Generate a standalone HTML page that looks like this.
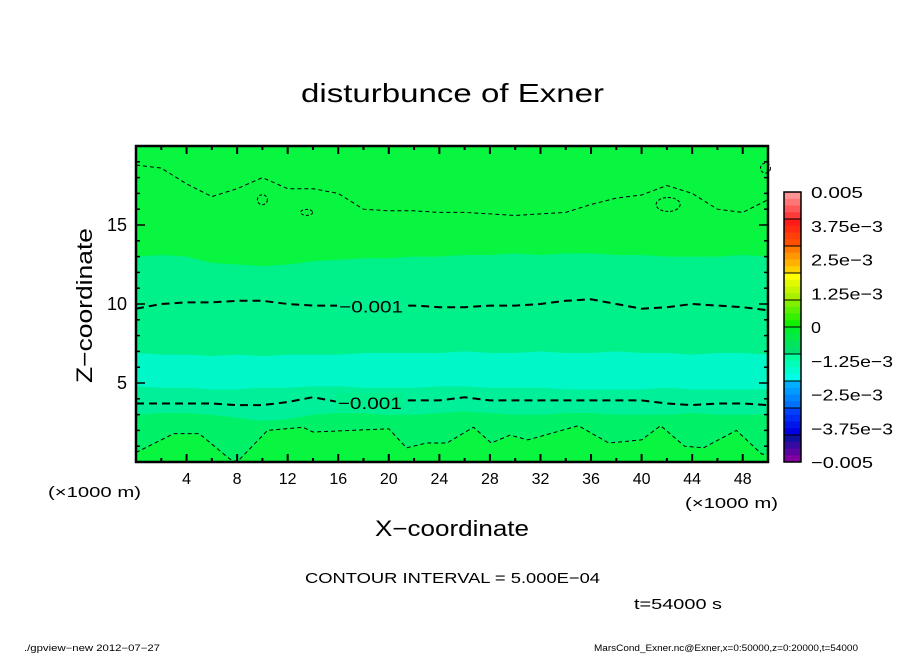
<!DOCTYPE html>
<html><head><meta charset="utf-8"><style>
body{margin:0;background:#fff;}
svg{display:block;font-family:"Liberation Sans",sans-serif;}
</style></head><body>
<svg id="chart" width="904" height="654" viewBox="0 0 904 654">
<text x="301" y="102" font-size="26" textLength="303" lengthAdjust="spacingAndGlyphs">disturbunce of Exner</text>
<g id="plot"></g>
<g id="cbar"></g>
<text x="375" y="536" font-size="22" textLength="154" lengthAdjust="spacingAndGlyphs">X−coordinate</text>
<text transform="translate(92,383) rotate(-90)" font-size="22" textLength="155" lengthAdjust="spacingAndGlyphs">Z−coordinate</text>
<text x="48" y="497" font-size="15" textLength="93" lengthAdjust="spacingAndGlyphs">(×1000 m)</text>
<text x="685" y="508" font-size="15" textLength="93" lengthAdjust="spacingAndGlyphs">(×1000 m)</text>
<text x="305" y="583" font-size="15" textLength="295" lengthAdjust="spacingAndGlyphs">CONTOUR INTERVAL = 5.000E−04</text>
<text x="634" y="609" font-size="15" textLength="88" lengthAdjust="spacingAndGlyphs">t=54000 s</text>
<text x="24" y="651" font-size="9" textLength="136" lengthAdjust="spacingAndGlyphs">./gpview−new   2012−07−27</text>
<text x="594" y="651" font-size="9" textLength="264" lengthAdjust="spacingAndGlyphs">MarsCond_Exner.nc@Exner,x=0:50000,z=0:20000,t=54000</text>
</svg>
<script>
// ---- data ----
const xTicks = [4,8,12,16,20,24,28,32,36,40,44,48];
const zTicks = [5,10,15];
const gridX = [0,2,4,6,8,10,12,14,16,18,20,22,24,26,28,30,32,34,36,38,40,42,44,46,48,50];
const contourUpper = [18.8,18.6,17.6,16.8,17.3,18.0,17.3,17.3,17.0,16.0,15.9,15.9,15.8,15.8,15.7,15.6,15.7,15.8,16.3,16.7,16.9,17.5,17.0,16.0,15.8,16.6];
const bandTop = [13.0,13.1,13.0,12.6,12.5,12.4,12.5,12.7,12.8,12.9,12.9,13.0,13.0,13.1,13.1,13.2,13.1,13.2,13.2,13.1,13.1,13.0,13.0,13.0,13.1,13.0];
const contourMid = [9.7,10.0,10.1,10.1,10.2,10.2,10.0,9.9,9.9,9.9,9.9,9.9,9.8,9.8,9.9,9.9,10.0,10.2,10.3,10.0,9.7,9.8,10.0,9.9,9.8,9.6];
const cyanTop = [6.9,6.8,6.8,6.7,6.8,6.7,6.8,6.8,6.8,6.9,6.9,6.9,6.9,7.0,6.9,6.9,7.0,6.9,6.9,7.0,6.9,6.9,6.8,6.9,6.9,6.8];
const cyanBottom = [4.8,4.7,4.7,4.6,4.6,4.7,4.7,4.8,4.8,4.7,4.7,4.7,4.8,4.8,4.7,4.7,4.7,4.6,4.6,4.6,4.6,4.7,4.6,4.6,4.6,4.6];
const contourLow = [3.7,3.7,3.7,3.7,3.6,3.6,3.8,4.1,3.8,3.8,3.9,3.9,3.9,4.1,3.9,3.9,3.9,3.9,3.9,3.9,3.9,3.7,3.6,3.7,3.7,3.6];
const bandLow = [3.0,3.1,3.1,3.0,2.8,2.6,2.7,3.0,3.1,3.1,3.0,3.0,3.1,3.2,3.1,3.0,3.0,3.1,3.1,3.0,3.0,3.0,3.1,3.0,3.0,3.0];
const bottomX = [0,3,5,7.4,8,10.4,13.2,14,17,20,21.4,23,24.6,26.7,28.1,29.6,31,35,37.4,40,41.5,43.4,44.9,47.5,49.5,50];
const contourBottom = [0.6,1.8,1.8,0.2,0.0,2.0,2.2,1.9,2.0,2.1,0.9,1.2,1.2,2.2,1.2,1.7,1.4,2.3,1.2,1.4,2.3,1.0,0.9,2.0,0.5,0.5];
const contourLabels = [{x:18.6,z:9.9,t:"−0.001"},{x:18.5,z:3.8,t:"−0.001"}];
const cbLabels = ["0.005","3.75e−3","2.5e−3","1.25e−3","0","−1.25e−3","−2.5e−3","−3.75e−3","−0.005"];

// ---- scales ----
const X0=136,X1=768,Z0=462,Z1=146;
const sx = x => X0 + (x/50)*(X1-X0);
const sz = z => Z0 - (z/20)*(Z0-Z1);
const NS="http://www.w3.org/2000/svg";
const plot=document.getElementById('plot');
function mk(tag,attrs,parent){const e=document.createElementNS(NS,tag);for(const k in attrs)e.setAttribute(k,attrs[k]);parent.appendChild(e);return e;}
function linePts(xs,zs){return xs.map((x,i)=>sx(x).toFixed(1)+","+sz(zs[i]).toFixed(1));}

let bg=mk('rect',{x:X0,y:Z1,width:X1-X0,height:Z0-Z1,fill:'#08f640'},plot);


const fills=[[bandTop,'#00f08a','field-band-mint'],[cyanTop,'#00f8c8','field-band-cyan'],[cyanBottom,'#00f09a','field-band-mint-low'],[bandLow,'#00f068','field-band-green-low']];
fills.forEach(f=>{
  const pts=linePts(gridX,f[0]).concat([sx(50)+","+Z0, sx(0)+","+Z0]);
  const p=mk('polygon',{points:pts.join(' '),fill:f[1]},plot);
  
  
});
{
  const pts=linePts(bottomX,contourBottom).concat([sx(50)+","+Z0, sx(0)+","+Z0]);
  const p=mk('polygon',{points:pts.join(' '),fill:'#08f640'},plot);
  
  
}
const cons=[[gridX,contourUpper,1,'4,3','contour-upper'],[gridX,contourMid,2,'8,5','contour-mid'],[gridX,contourLow,2,'8,5','contour-low'],[bottomX,contourBottom,1,'4,3','contour-bottom']];
cons.forEach(c=>{
  const p=mk('polyline',{points:linePts(c[0],c[1]).join(' '),fill:'none',stroke:'#000','stroke-width':c[2],'stroke-dasharray':c[3]},plot);
  
  
});
[[10,16.6,5,5],[13.5,15.8,6,3],[42.1,16.3,12,7],[49.8,18.6,5,5]].forEach(l=>{
  const e=mk('ellipse',{cx:sx(l[0]),cy:sz(l[1]),rx:l[2],ry:l[3],fill:'none',stroke:'#000','stroke-width':1,'stroke-dasharray':'3,2'},plot);
  
  
});
contourLabels.forEach(l=>{
  mk('rect',{x:sx(l.x)-34,y:sz(l.z)-9,width:68,height:18,fill:'#00f090'},plot);
  const t=mk('text',{x:sx(l.x)-32,y:sz(l.z)+7,'font-size':17,textLength:64,lengthAdjust:'spacingAndGlyphs'},plot);
  t.textContent=l.t;
  
  
});
let fr=mk('rect',{x:X0,y:Z1,width:X1-X0,height:Z0-Z1,fill:'none',stroke:'#000','stroke-width':2.5},plot);


for(let x=2;x<50;x+=2){
  const L=(x%4===0)?8:4;
  mk('line',{x1:sx(x),x2:sx(x),y1:Z0,y2:Z0-L,stroke:'#000','stroke-width':2},plot);
  mk('line',{x1:sx(x),x2:sx(x),y1:Z1,y2:Z1+L,stroke:'#000','stroke-width':2},plot);
}
xTicks.forEach(x=>{
  const t=mk('text',{x:sx(x),y:484,'font-size':16,'text-anchor':'middle'},plot);
  t.textContent=x;
  
  
});
for(let z=1;z<20;z++){
  const L=(z%5===0)?9:4;
  mk('line',{x1:X0,x2:X0+L,y1:sz(z),y2:sz(z),stroke:'#000','stroke-width':1.5},plot);
  mk('line',{x1:X1,x2:X1-L,y1:sz(z),y2:sz(z),stroke:'#000','stroke-width':1.5},plot);
}
zTicks.forEach(z=>{
  const t=mk('text',{x:127,y:sz(z)+6,'font-size':18,'text-anchor':'end'},plot);
  t.textContent=z;
  
  
});
const cb=document.getElementById('cbar');
const CX=784,CW=17,CT=192,CB=462;
const keys=[['#ff9494','#ff3a3a'],['#ff1a1a','#ff5000'],['#ff7a00','#ffd000'],['#ffff00','#a8f000'],['#80f000','#10f000'],['#00f030','#00e070'],['#00ffa0','#00ffe8'],['#00b0ff','#0070ff'],['#0040ff','#0000e0'],['#1010a0','#8000a0']];
function hx(h){return [1,3,5].map(i=>parseInt(h.substr(i,2),16));}
const bh=(CB-CT)/40;
keys.forEach((k,bi)=>{
  const a=hx(k[0]),b=hx(k[1]);
  for(let s=0;s<4;s++){
    const f=s/3;const c=a.map((v,i)=>Math.round(v+(b[i]-v)*f));
    mk('rect',{x:CX,y:CT+(bi*4+s)*bh,width:CW,height:bh+0.5,fill:`rgb(${c})`},cb);
  }
  mk('line',{x1:CX,x2:CX+CW,y1:CT+bi*4*bh,y2:CT+bi*4*bh,stroke:'#000','stroke-width':1},cb);
});
mk('rect',{x:CX,y:CT,width:CW,height:CB-CT,fill:'none',stroke:'#000','stroke-width':1.5},cb);
cbLabels.forEach((l,i)=>{
  const y=CT+i*(CB-CT)/(cbLabels.length-1);
  const attrs={x:811,y:y+6,'font-size':16};
  const n=l.length;
  attrs.textLength=Math.round(n*10.3);
  attrs.lengthAdjust='spacingAndGlyphs';
  const t=mk('text',attrs,cb);
  t.textContent=l;
  
  
});
</script>
</body></html>
